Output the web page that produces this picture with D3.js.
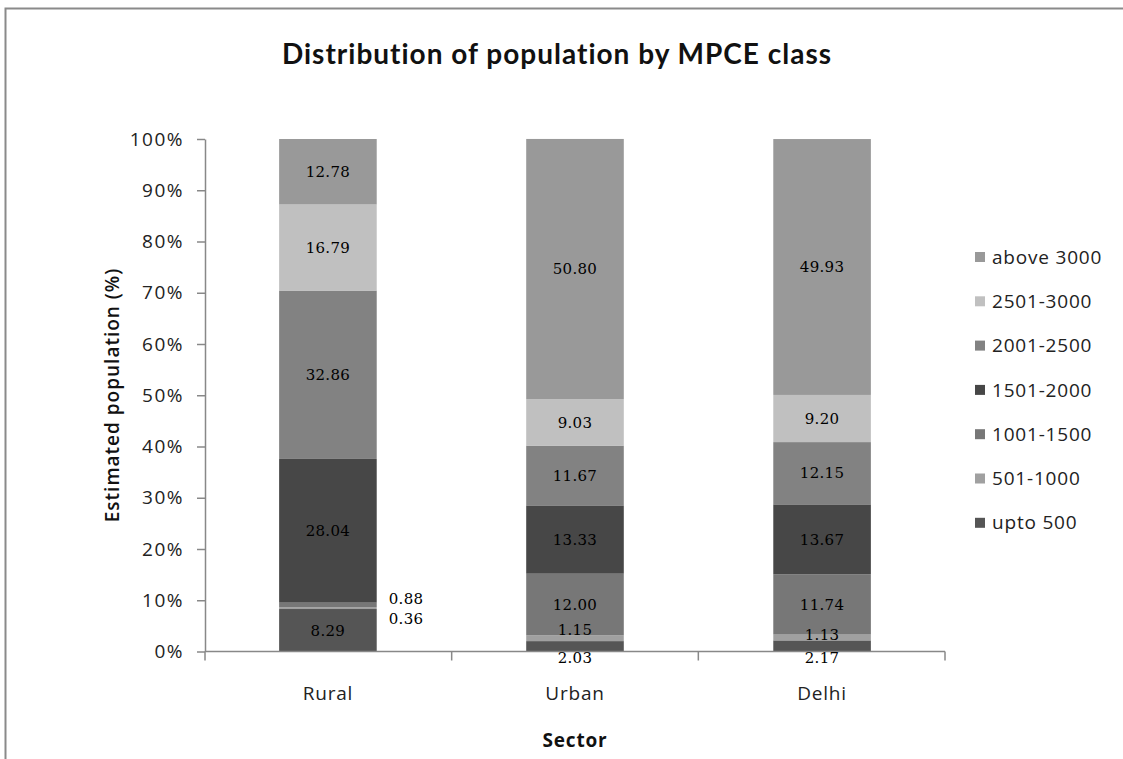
<!DOCTYPE html>
<html><head><meta charset="utf-8">
<script src="https://cdn.jsdelivr.net/npm/d3@7/dist/d3.min.js"></script>
<style>body{margin:0;background:#fff}svg{display:block}</style>
</head><body><svg id="c" width="1123" height="759"></svg>
<script>
const sectors = ["Rural", "Urban", "Delhi"];
const classes = ["upto 500", "501-1000", "1001-1500", "1501-2000", "2001-2500", "2501-3000", "above 3000"];
const upto500 = [8.29, 2.03, 2.17];
const c501_1000 = [0.36, 1.15, 1.13];
const c1001_1500 = [0.88, 12.00, 11.74];
const c1501_2000 = [28.04, 13.33, 13.67];
const c2001_2500 = [32.86, 11.67, 12.15];
const c2501_3000 = [16.79, 9.03, 9.20];
const above3000 = [12.78, 50.80, 49.93];
const yTicks = [0, 10, 20, 30, 40, 50, 60, 70, 80, 90, 100];

const seriesVals = [upto500, c501_1000, c1001_1500, c1501_2000, c2001_2500, c2501_3000, above3000];
const colors = ["#555555", "#a0a0a0", "#777777", "#474747", "#828282", "#c0c0c0", "#999999"];

const rows = sectors.map((s, i) => {
  const o = {sector: s};
  classes.forEach((c, k) => o[c] = seriesVals[k][i]);
  return o;
});
const stack = d3.stack().keys(classes)(rows);

const svg = d3.select("#c");
const font = "'Open Sans', Lato, sans-serif";
// frame
svg.append("path").attr("d", "M5.5,759 L5.5,8.5 L1123,8.5").attr("fill", "none").attr("stroke", "#8a8a8a").attr("stroke-width", 2);

const x = d3.scaleBand().domain(sectors).range([205, 945]).paddingInner(0.605).paddingOuter(0.3);
const y = d3.scaleLinear().domain([0, 100]).range([651.5, 139]);

svg.append("text").attr("x", 557).attr("y", 64).attr("text-anchor", "middle")
  .attr("font-family", "Lato, 'Open Sans', sans-serif").attr("font-weight", "bold").attr("font-size", 28)
  .attr("letter-spacing", 1).attr("fill", "#111")
  .text("Distribution of population by MPCE class");

// y axis
const ya = svg.append("g").attr("transform", "translate(205,0)")
  .call(d3.axisLeft(y).tickValues(yTicks).tickFormat(d => d + "%").tickSize(8).tickSizeOuter(0));
ya.select(".domain").attr("stroke", "#888").attr("stroke-width", 1.5);
ya.selectAll(".tick line").attr("stroke", "#888").attr("stroke-width", 1.5);
ya.selectAll("text").attr("font-family", font).attr("font-size", 19).attr("letter-spacing", 1.5)
  .attr("fill", "#222").attr("x", -21);

// bars
const g = svg.append("g");
stack.forEach((layer, k) => {
  g.selectAll(null).data(layer).enter().append("rect")
    .attr("x", d => x(d.data.sector))
    .attr("width", x.bandwidth())
    .attr("y", d => y(d[1]))
    .attr("height", d => y(d[0]) - y(d[1]))
    .attr("fill", colors[k]);
});

// x axis
const xTickPos = [205, 205 + (945 - 205) / 3, 205 + 2 * (945 - 205) / 3, 945];
svg.append("line").attr("x1", 205).attr("x2", 945).attr("y1", 651.5).attr("y2", 651.5).attr("stroke", "#888").attr("stroke-width", 1.5);
svg.selectAll(null).data(xTickPos).enter().append("line")
  .attr("x1", d => d).attr("x2", d => d).attr("y1", 651.5).attr("y2", 660.5).attr("stroke", "#888").attr("stroke-width", 1.5);
svg.selectAll(null).data(sectors).enter().append("text")
  .attr("x", d => x(d) + x.bandwidth() / 2).attr("y", 700).attr("text-anchor", "middle")
  .attr("font-family", font).attr("font-size", 19).attr("letter-spacing", 0.8).attr("fill", "#222").text(d => d);

// data labels
const lab = svg.append("g").attr("font-family", "'DejaVu Serif', serif").attr("font-size", 15)
  .attr("letter-spacing", 0.3).attr("fill", "#000");
stack.forEach((layer, k) => {
  layer.forEach((d, i) => {
    const v = d[1] - d[0];
    let lx = x(d.data.sector) + x.bandwidth() / 2, ly = y((d[0] + d[1]) / 2), anchor = "middle";
    if (i === 0 && (k === 1 || k === 2)) {
      // small rural segments labelled outside the bar
      lx = x(d.data.sector) + x.bandwidth() + 12; anchor = "start";
      ly = k === 1 ? y(d[1]) + 12 : y(d[1]) - 4;
    } else if (i > 0 && k === 0) {
      ly = y(0) + 6;
    } else if (i > 0 && k === 1) {
      ly = y(d[1]) - 5 + (i === 2 ? 5 : 0);
    }
    lab.append("text").attr("x", lx).attr("y", ly).attr("dy", "0.35em").attr("text-anchor", anchor).text(v.toFixed(2));
  });
});

// legend
const legendOrder = classes.slice().reverse();
const lg = svg.append("g");
legendOrder.forEach((c, i) => {
  const ly = 257 + i * 44.3;
  lg.append("rect").attr("x", 975).attr("y", ly - 5).attr("width", 10).attr("height", 10).attr("fill", colors[classes.indexOf(c)]);
  lg.append("text").attr("x", 992).attr("y", ly).attr("dy", "0.35em").attr("font-family", font).attr("font-size", 19)
    .attr("letter-spacing", 0.8).attr("fill", "#222").text(c);
});

// axis titles
svg.append("text").attr("transform", "translate(119,395) rotate(-90)").attr("text-anchor", "middle")
  .attr("font-family", font).attr("font-weight", 600).attr("font-size", 19).attr("letter-spacing", 1)
  .attr("fill", "#111").text("Estimated population (%)");
svg.append("text").attr("x", 575).attr("y", 747).attr("text-anchor", "middle")
  .attr("font-family", font).attr("font-weight", "bold").attr("font-size", 19).attr("letter-spacing", 0.8)
  .attr("fill", "#111").text("Sector");
</script></body></html>
